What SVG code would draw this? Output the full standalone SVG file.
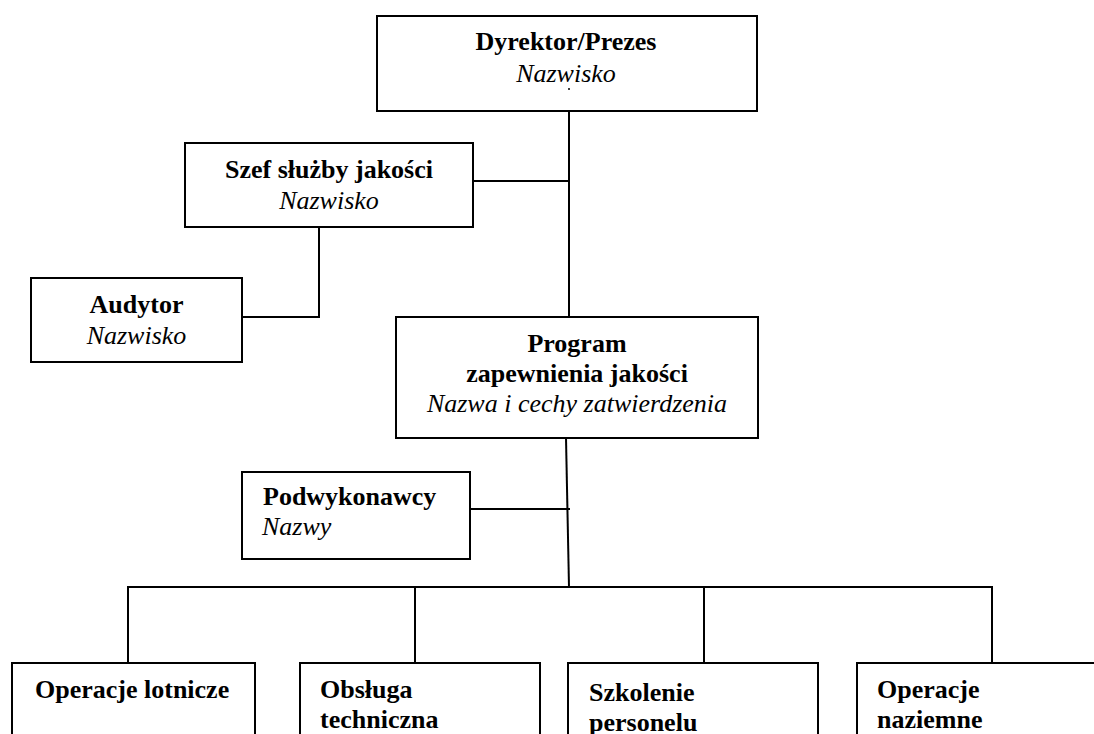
<svg xmlns="http://www.w3.org/2000/svg" width="1094" height="734" viewBox="0 0 1094 734" font-family="'Liberation Serif', 'DejaVu Serif', serif">
  <style>
    .box { fill: #ffffff; stroke: #000000; stroke-width: 2; }
    .ln { fill: none; stroke: #000000; stroke-width: 2; }
    .t { font-family: 'Liberation Serif', 'DejaVu Serif', serif; font-size: 26px; fill: #000000; }
    .b { font-weight: bold; }
    .i { font-style: italic; }
    .c { text-anchor: middle; }
  </style>
  <rect width="1094" height="734" fill="#ffffff"/>

  <!-- connectors -->
  <g id="connectors">
    <line class="ln" x1="569" y1="105" x2="569" y2="317"/>
    <line class="ln" x1="473" y1="181" x2="569" y2="181"/>
    <line class="ln" x1="319" y1="227" x2="319" y2="317"/>
    <line class="ln" x1="242" y1="317" x2="320" y2="317"/>
    <line class="ln" x1="566" y1="438" x2="569" y2="587"/>
    <line class="ln" x1="470" y1="509" x2="570" y2="509"/>
    <line class="ln" x1="127" y1="587" x2="993" y2="587"/>
    <line class="ln" x1="128" y1="586" x2="128" y2="663"/>
    <line class="ln" x1="415" y1="586" x2="415" y2="663"/>
    <line class="ln" x1="704" y1="586" x2="704" y2="663"/>
    <line class="ln" x1="992" y1="586" x2="992" y2="663"/>
  </g>

  <g id="dyrektor">
    <rect class="box" x="377" y="16" width="380" height="95"/>
    <text class="t b c" x="566" y="50">Dyrektor/Prezes</text>
    <text class="t i c" x="566" y="82">Nazwisko</text>
    <circle cx="569" cy="89" r="1" fill="#000000"/>
  </g>

  <g id="szef">
    <rect class="box" x="185" y="143" width="288" height="84"/>
    <text class="t b c" x="329" y="178">Szef służby jakości</text>
    <text class="t i c" x="329" y="209">Nazwisko</text>
  </g>

  <g id="audytor">
    <rect class="box" x="31" y="278" width="211" height="84"/>
    <text class="t b c" x="136.5" y="313">Audytor</text>
    <text class="t i c" x="136.5" y="344">Nazwisko</text>
  </g>

  <g id="program">
    <rect class="box" x="396" y="317" width="362" height="121"/>
    <text class="t b c" x="577" y="352">Program</text>
    <text class="t b c" x="577" y="382">zapewnienia jakości</text>
    <text class="t i c" x="577" y="412">Nazwa i cechy zatwierdzenia</text>
  </g>

  <g id="podwykonawcy">
    <rect class="box" x="242" y="472" width="228" height="87"/>
    <text class="t b" x="263" y="505">Podwykonawcy</text>
    <text class="t i" x="262" y="535">Nazwy</text>
  </g>

  <g id="operacje-lotnicze">
    <rect class="box" x="12" y="663" width="243" height="90"/>
    <text class="t b" x="35" y="698">Operacje lotnicze</text>
  </g>

  <g id="obsluga-techniczna">
    <rect class="box" x="300" y="663" width="240" height="90"/>
    <text class="t b" x="320" y="698">Obsługa</text>
    <text class="t b" x="320" y="728">techniczna</text>
  </g>

  <g id="szkolenie-personelu">
    <rect class="box" x="568" y="663" width="250" height="90"/>
    <text class="t b" x="589" y="701">Szkolenie</text>
    <text class="t b" x="589" y="731">personelu</text>
  </g>

  <g id="operacje-naziemne">
    <rect class="box" x="857" y="663" width="260" height="90"/>
    <text class="t b" x="877" y="698">Operacje</text>
    <text class="t b" x="877" y="728">naziemne</text>
  </g>
</svg>
